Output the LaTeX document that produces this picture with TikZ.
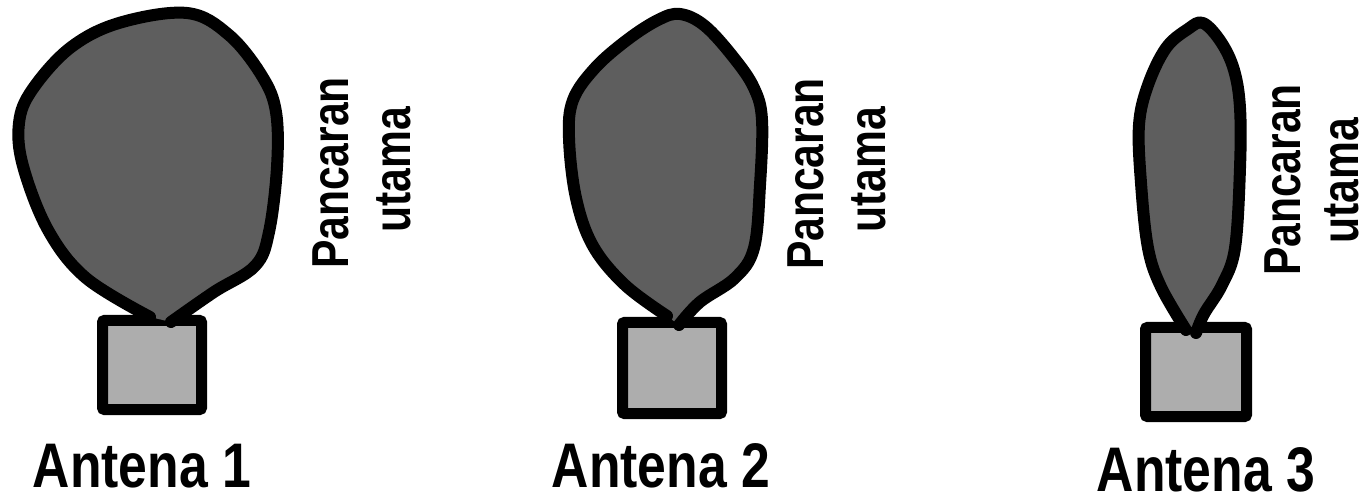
\documentclass[tikz,border=0pt]{standalone}
\usepackage{fontspec}
\newfontfamily\lblfont[FakeStretch=0.82]{Liberation Sans}
\definecolor{lobegray}{HTML}{5E5E5E}
\definecolor{boxgray}{HTML}{ADADAD}
\begin{document}
\begin{tikzpicture}[x=1pt,y=-1pt,
  antbox/.style={draw=black, line width=11pt, fill=boxgray, rounded corners=2pt,
                 inner sep=0pt, minimum width=#1},
  lobe/.style={draw=black, line width=12pt, fill=lobegray, line cap=round, line join=round},
  beam/.style={font=\lblfont\bfseries\fontsize{52}{52}\selectfont, rotate=90, anchor=base, inner sep=0pt},
  antlabel/.style={font=\lblfont\bfseries\fontsize{63}{63}\selectfont, anchor=base, inner sep=0pt}]
\useasboundingbox (0,0) rectangle (1366,494);

% antenna bodies
\node[antbox=99pt, minimum height=89pt] (box1) at (152,365) {};
\node[antbox=99pt, minimum height=91pt] (box2) at (672,368) {};
\node[antbox=101pt, minimum height=89pt] (box3) at (1196,372) {};

% radiation lobes
\draw[lobe] plot[smooth, tension=0.6] coordinates {
  (150,317) (86,278) (48,230) (23,166) (19,123) (32,90) (70,48) (119,23)
  (187,13) (229,35) (262,76) (276,112) (277,167) (269,232) (255,266) (214,292) (171,322)};
\draw[lobe] plot[smooth, tension=0.6] coordinates {
  (667,316) (625,285) (593,246) (576,198) (569,138) (573,100) (595,68) (627,40)
  (658,20) (680,14) (705,26) (734,58) (754,88) (762,120) (760,185) (754,248)
  (735,278) (700,302) (679,325)};
\draw[lobe] plot[smooth, tension=0.6] coordinates {
  (1186,330) (1161,287) (1148,248) (1141,183) (1139,125) (1148,85) (1166,48)
  (1188,29) (1203,23) (1221,42) (1234,70) (1240,108) (1240,168) (1235,248)
  (1222,285) (1204,314) (1196,333)};

% main beam labels
\node[beam] (p1) at (348,173) {Pancaran};
\node[beam] (u1) at (410,170) {utama};
\node[beam] (p2) at (823,174) {Pancaran};
\node[beam] (u2) at (885,170) {utama};
\node[beam] (p3) at (1300,180) {Pancaran};
\node[beam] (u3) at (1358,181) {utama};

% antenna names
\node[antlabel] (n1) at (142,487) {Antena 1};
\node[antlabel] (n2) at (661,487) {Antena 2};
\node[antlabel] (n3) at (1206,491) {Antena 3};
\end{tikzpicture}
\end{document}
